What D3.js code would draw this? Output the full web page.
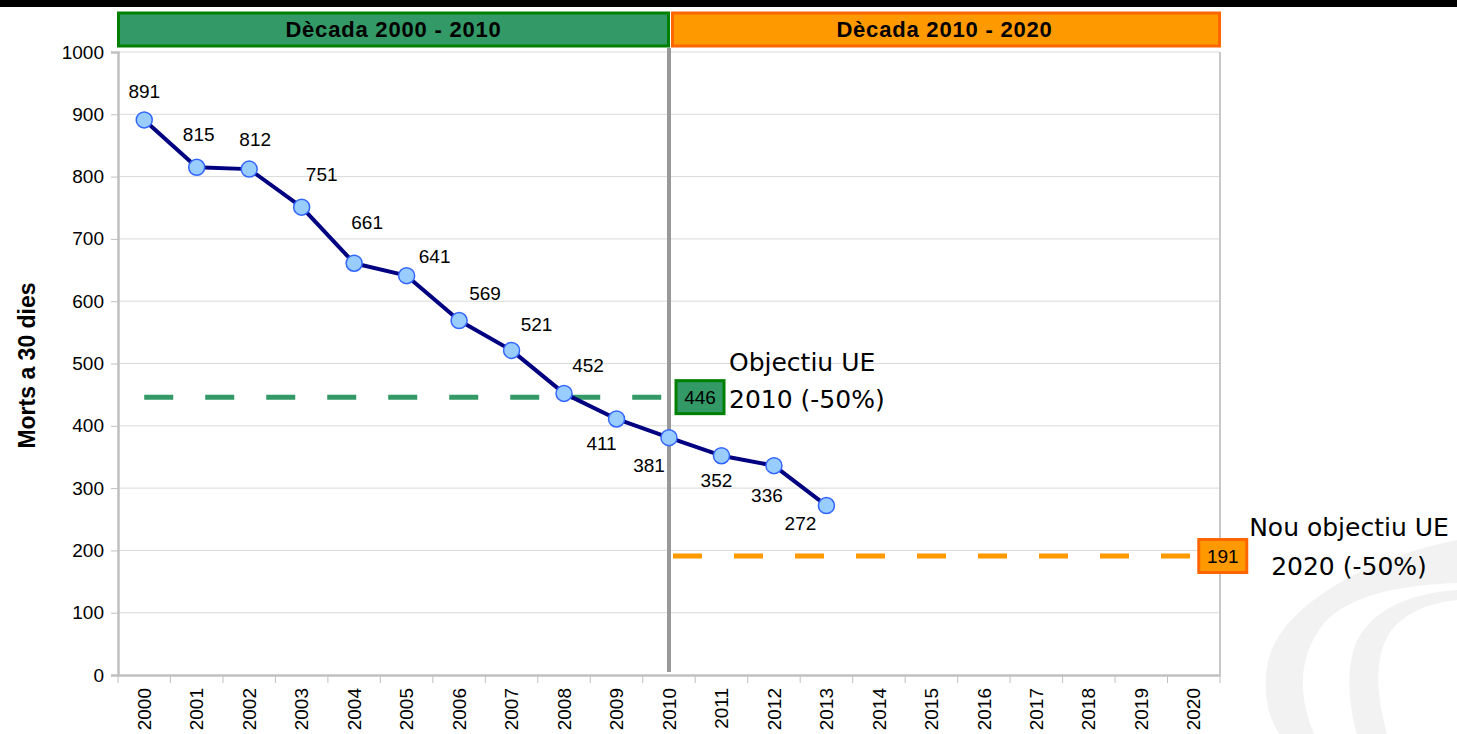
<!DOCTYPE html>
<html>
<head>
<meta charset="utf-8">
<script src="https://cdn.jsdelivr.net/npm/d3@7"></script>
<style>
  body { margin: 0; background: #fff; }
  svg { display: block; }
</style>
</head>
<body>
<div id="chart"></div>
<script>
// years on the x axis
const years = d3.range(2000, 2021).map(String);
// observed deaths at 30 days
const deathYears = ["2000","2001","2002","2003","2004","2005","2006","2007","2008","2009","2010","2011","2012","2013"];
const deaths = [891, 815, 812, 751, 661, 641, 569, 521, 452, 411, 381, 352, 336, 272];
// label placement for each point [dx, dy]
const labelOffsets = [[0,-29],[2,-33],[6,-30],[20,-33],[13,-41],[28,-20],[26,-28],[25,-26],[24,-28],[-15,24],[-20,27],[-5,24],[-7,29],[-26,17]];
const yTicks = [0, 100, 200, 300, 400, 500, 600, 700, 800, 900, 1000];

const target2010 = 446;
const target2020 = 191;
const decades = [
  { label: "Dècada 2000 - 2010", from: "2000", to: "2010", fill: "#339966", stroke: "#008000" },
  { label: "Dècada 2010 - 2020", from: "2010", to: "2020", fill: "#ff9900", stroke: "#ff6600" }
];

const width = 1457, height = 734;
const margin = { left: 118, right: 237, top: 52, bottom: 59 };
const font = "Liberation Sans, Arial, sans-serif";

const svg = d3.select("#chart").append("svg")
  .attr("width", width)
  .attr("height", height);

// watermark arcs (faint logo, bottom right)
const wm = svg.append("g").attr("fill", "#f2f2f2");
wm.append("path")
  .attr("d", "M1457,540 C1360,560 1275,610 1267,667 C1262,700 1272,725 1280,734 L1314,734 C1300,700 1295,660 1324,623 C1350,595 1400,585 1457,583 Z");
wm.append("path")
  .attr("d", "M1457,590 C1410,593 1370,610 1355,645 C1345,675 1350,710 1357,734 L1387,734 C1378,700 1372,660 1390,632 C1405,612 1430,603 1457,600 Z");

// top black strip
svg.append("rect").attr("x", 0).attr("y", 0).attr("width", width).attr("height", 7).attr("fill", "#000");

const x = d3.scaleBand()
  .domain(years)
  .range([margin.left, width - margin.right]);

const y = d3.scaleLinear()
  .domain([0, 1000])
  .range([height - margin.bottom, margin.top]);

const cx = d => x(d) + x.bandwidth() / 2;

// gridlines
svg.append("g")
  .selectAll("line")
  .data(yTicks.filter(d => d > 0))
  .join("line")
  .attr("x1", margin.left)
  .attr("x2", width - margin.right)
  .attr("y1", d => y(d))
  .attr("y2", d => y(d))
  .attr("stroke", "#d9d9d9")
  .attr("stroke-width", 1);

// right border
svg.append("line")
  .attr("x1", width - margin.right).attr("x2", width - margin.right)
  .attr("y1", margin.top).attr("y2", height - margin.bottom)
  .attr("stroke", "#c8c8c8").attr("stroke-width", 2);

// y axis
const yAxis = svg.append("g")
  .attr("transform", `translate(${margin.left},0)`)
  .call(d3.axisLeft(y).tickValues(yTicks).tickFormat(d3.format("d")).tickSize(7).tickPadding(7));
yAxis.selectAll("text").attr("font-family", font).attr("font-size", 19).attr("fill", "#000");
yAxis.selectAll("line").attr("stroke", "#c0c0c0");
yAxis.select(".domain").attr("stroke", "#c0c0c0").attr("stroke-width", 2.5);

// x axis
const xAxis = svg.append("g")
  .attr("transform", `translate(0,${height - margin.bottom})`)
  .call(d3.axisBottom(x).tickSize(0).tickPadding(0));
xAxis.select(".domain").attr("stroke", "#c0c0c0").attr("stroke-width", 2.5);
xAxis.selectAll("text")
  .attr("font-family", font)
  .attr("font-size", 19)
  .attr("fill", "#000")
  .attr("transform", "rotate(-90)")
  .attr("text-anchor", "end")
  .attr("dy", "0.35em")
  .attr("x", -13)
  .attr("y", 0);
// band boundary ticks
svg.append("g")
  .selectAll("line")
  .data(years.concat(["end"]))
  .join("line")
  .attr("x1", (d, i) => margin.left + i * x.bandwidth())
  .attr("x2", (d, i) => margin.left + i * x.bandwidth())
  .attr("y1", height - margin.bottom)
  .attr("y2", height - margin.bottom + 8)
  .attr("stroke", "#c0c0c0")
  .attr("stroke-width", 1);

// y axis title
svg.append("text")
  .attr("transform", `translate(35,${(margin.top + height - margin.bottom) / 2 + 2}) rotate(-90)`)
  .attr("text-anchor", "middle")
  .attr("font-family", font)
  .attr("font-weight", "bold")
  .attr("font-size", 23)
  .text("Morts a 30 dies");

// decade headers
const hdr = svg.append("g").selectAll("g").data(decades).join("g");
hdr.append("rect")
  .attr("x", (d, i) => (i === 0 ? margin.left : cx(d.from) + 3) + 0.5)
  .attr("y", 13)
  .attr("width", (d, i) => (i === 0 ? cx(d.to) - margin.left : width - margin.right - cx(d.from) - 3) - 1)
  .attr("height", 33)
  .attr("fill", d => d.fill)
  .attr("stroke", d => d.stroke)
  .attr("stroke-width", 3);
hdr.append("text")
  .attr("x", (d, i) => i === 0 ? (margin.left + cx(d.to)) / 2 : (cx(d.from) + width - margin.right) / 2)
  .attr("y", 37)
  .attr("text-anchor", "middle")
  .attr("font-family", font)
  .attr("font-weight", "bold")
  .attr("font-size", 22)
  .attr("letter-spacing", 0.8)
  .text(d => d.label);

// 2010 separator
svg.append("line")
  .attr("x1", cx("2010")).attr("x2", cx("2010"))
  .attr("y1", margin.top - 4).attr("y2", height - margin.bottom - 3)
  .attr("stroke", "#999").attr("stroke-width", 4);

// target lines
svg.append("line")
  .attr("x1", cx("2000")).attr("x2", cx("2010"))
  .attr("y1", y(target2010)).attr("y2", y(target2010))
  .attr("stroke", "#339966").attr("stroke-width", 5)
  .attr("stroke-dasharray", "29 32");
svg.append("line")
  .attr("x1", cx("2010") + 4).attr("x2", cx("2020"))
  .attr("y1", y(target2020)).attr("y2", y(target2020))
  .attr("stroke", "#ff9900").attr("stroke-width", 5)
  .attr("stroke-dasharray", "29 32");

// target value boxes
const boxes = [
  { v: target2010, x: cx("2010") + 7, fill: "#339966", stroke: "#008000", w: 48, h: 33 },
  { v: target2020, x: cx("2020") + 5, fill: "#ff9900", stroke: "#ff6600", w: 48, h: 33 }
];
const bx = svg.append("g").selectAll("g").data(boxes).join("g");
bx.append("rect")
  .attr("x", d => d.x).attr("y", d => y(d.v) - d.h / 2)
  .attr("width", d => d.w).attr("height", d => d.h)
  .attr("fill", d => d.fill).attr("stroke", d => d.stroke).attr("stroke-width", 3);
bx.append("text")
  .attr("x", d => d.x + d.w / 2).attr("y", d => y(d.v) + 7)
  .attr("text-anchor", "middle")
  .attr("font-family", font)
  .attr("font-size", 19)
  .text(d => d.v);

// target captions
const cap = svg.append("g")
  .attr("font-family", "DejaVu Sans, Verdana, sans-serif")
  .attr("font-size", 25)
  .attr("fill", "#000");
cap.append("text").attr("x", 729).attr("y", 371).text("Objectiu UE");
cap.append("text").attr("x", 729).attr("y", 408).text("2010 (-50%)");
cap.append("text").attr("x", 1349).attr("y", 536).attr("text-anchor", "middle").text("Nou objectiu UE");
cap.append("text").attr("x", 1349).attr("y", 575).attr("text-anchor", "middle").text("2020 (-50%)");

// deaths line
const line = d3.line()
  .x((d, i) => cx(deathYears[i]))
  .y(d => y(d));
svg.append("path")
  .datum(deaths)
  .attr("fill", "none")
  .attr("stroke", "#000080")
  .attr("stroke-width", 4)
  .attr("stroke-linejoin", "round")
  .attr("d", line);

svg.append("g")
  .selectAll("circle")
  .data(deaths)
  .join("circle")
  .attr("cx", (d, i) => cx(deathYears[i]))
  .attr("cy", d => y(d))
  .attr("r", 8)
  .attr("fill", "#99ccff")
  .attr("stroke", "#3366ff")
  .attr("stroke-width", 1.5);

svg.append("g")
  .selectAll("text")
  .data(deaths)
  .join("text")
  .attr("x", (d, i) => cx(deathYears[i]) + labelOffsets[i][0])
  .attr("y", (d, i) => y(d) + labelOffsets[i][1] + 7)
  .attr("text-anchor", "middle")
  .attr("font-family", font)
  .attr("font-size", 19)
  .text(d => d);
</script>
</body>
</html>
